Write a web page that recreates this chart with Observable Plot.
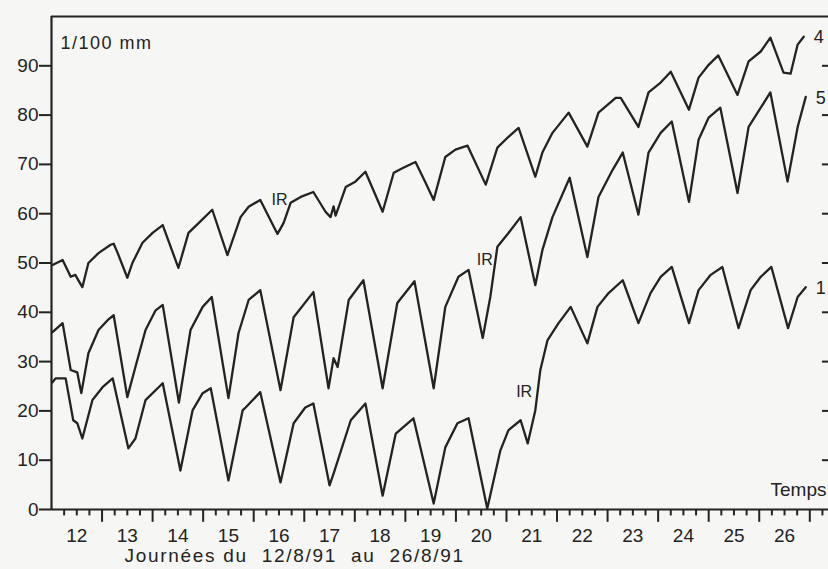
<!DOCTYPE html>
<html><head><meta charset="utf-8">
<script src="https://cdn.jsdelivr.net/npm/d3@7"></script>
<script src="https://cdn.jsdelivr.net/npm/@observablehq/plot@0.6"></script>
<style>
html,body{margin:0;padding:0;background:#f6f6f4;}
</style></head><body><div id="chart"></div>
<script>
// ---- texts ----
const unitLabel = "1/100 mm";
const xTitle = "Journées du\u00A0\u00A012/8/91\u00A0\u00A0au\u00A0\u00A026/8/91";
const timeLabel = "Temps";
const irText = "IR";
// ---- ticks ----
const dayLabels = [12,13,14,15,16,17,18,19,20,21,22,23,24,25,26];
const dayBounds = [13,14,15,16,17,18,19,20,21,22,23,24,25,26,27];
const yTicks = [0,10,20,30,40,50,60,70,80,90];
const rightTicks = [10,20,30,40,50,60,70,80,90];
const seriesNames = ["4","5","1"];
// ---- series 4 (top) : time in days, value in 1/100 mm ----
const s4T = [12.02,12.22,12.38,12.47,12.61,12.73,12.93,13.17,13.23,13.31,13.50,13.60,13.80,14.00,14.20,14.51,14.71,14.91,15.18,15.48,15.74,15.90,16.13,16.47,16.59,16.73,16.93,17.18,17.42,17.52,17.58,17.62,17.82,18.01,18.21,18.55,18.77,18.96,19.20,19.40,19.56,19.79,19.99,20.23,20.59,20.82,21.04,21.24,21.57,21.71,21.91,22.23,22.60,22.82,23.16,23.26,23.61,23.81,24.05,24.25,24.61,24.80,25.00,25.19,25.57,25.79,26.03,26.22,26.48,26.62,26.76,26.88];
const s4V = [49.6,50.6,47.2,47.6,45.1,50.0,52.0,53.7,53.9,52.0,47.0,50.0,54.1,56.1,57.7,49.0,56.1,58.1,60.8,51.6,59.3,61.4,62.8,55.9,58.1,62.2,63.4,64.4,60.4,59.3,61.5,59.6,65.4,66.5,68.5,60.4,68.3,69.3,70.5,66.3,62.8,71.5,73.0,73.8,65.9,73.4,75.6,77.4,67.5,72.4,76.4,80.5,73.6,80.5,83.5,83.5,77.6,84.6,86.6,88.8,81.1,87.6,90.2,92.1,84.1,90.9,92.9,95.7,88.6,88.4,94.3,95.9];
// ---- series 5 (middle) ----
const s5T = [12.02,12.22,12.38,12.51,12.59,12.73,12.93,13.11,13.23,13.50,13.66,13.86,14.06,14.20,14.52,14.75,14.99,15.17,15.50,15.70,15.90,16.13,16.53,16.79,17.18,17.48,17.58,17.66,17.88,18.17,18.55,18.84,19.18,19.56,19.79,20.05,20.25,20.53,20.68,20.82,21.04,21.28,21.57,21.71,21.91,22.25,22.60,22.82,23.10,23.30,23.61,23.81,24.05,24.27,24.61,24.80,25.00,25.23,25.57,25.79,26.03,26.22,26.56,26.76,26.92];
const s5V = [36.0,37.8,28.3,27.8,23.6,31.7,36.4,38.4,39.4,22.8,28.9,36.4,40.4,41.5,21.7,36.4,41.1,43.1,22.6,35.8,42.5,44.5,24.2,39.0,44.1,24.6,30.7,28.9,42.5,46.5,24.6,41.9,46.3,24.6,41.1,47.2,48.6,34.8,43.1,53.3,56.1,59.3,45.5,52.6,59.3,67.3,51.2,63.4,68.9,72.4,59.8,72.4,76.4,78.7,62.4,75.0,79.5,81.5,64.2,77.6,81.5,84.6,66.5,77.6,83.7];
// ---- series 1 (bottom) ----
const s1T = [12.02,12.08,12.28,12.43,12.51,12.61,12.81,13.01,13.21,13.52,13.66,13.86,14.20,14.55,14.79,14.99,15.15,15.50,15.78,15.84,16.13,16.53,16.79,17.02,17.18,17.50,17.58,17.92,18.21,18.55,18.81,19.16,19.56,19.79,20.03,20.25,20.62,20.88,21.04,21.28,21.42,21.57,21.67,21.81,22.03,22.27,22.60,22.80,23.02,23.30,23.61,23.85,24.05,24.27,24.61,24.80,25.04,25.27,25.59,25.83,26.03,26.24,26.57,26.76,26.92];
const s1V = [25.8,26.6,26.6,18.1,17.5,14.4,22.2,24.8,26.6,12.4,14.4,22.2,25.6,7.9,20.1,23.6,24.6,5.9,20.1,20.7,23.8,5.5,17.5,20.7,21.5,4.9,7.3,18.1,21.5,2.8,15.4,18.5,1.2,12.6,17.5,18.5,0.2,12.0,16.1,18.1,13.4,20.1,28.3,34.3,37.8,41.1,33.7,41.1,43.9,46.5,37.8,43.9,47.2,49.2,37.8,44.5,47.6,49.2,36.8,44.5,47.2,49.2,36.8,43.1,45.1];
// ---- IR annotations ----
const irT = [16.51, 20.57, 21.35];
const irV = [62.8, 50.7, 23.8];

const seriesT = [s4T, s5T, s1T];
const seriesV = [s4V, s5V, s1V];
const rows = [];
seriesNames.forEach((name, i) => {
  seriesT[i].forEach((t, j) => rows.push({s: name, t, v: seriesV[i][j]}));
});
const ends = seriesNames.map((name, i) => ({s: name, t: seriesT[i][seriesT[i].length - 1], v: seriesV[i][seriesV[i].length - 1]}));
const irRows = irT.map((t, i) => ({t, v: irV[i]}));

const xDomain = [12, 27.37];
const quarterTicks = [];
dayLabels.forEach(d => { quarterTicks.push(d + 0.25, d + 0.5, d + 0.75); });
quarterTicks.push(27.25);
const labelPos = dayLabels.map(d => d + 0.5);

const ink = "#232323";
const font = "'Liberation Sans', Arial, Helvetica, sans-serif";

const chart = Plot.plot({
  width: 828, height: 569,
  marginLeft: 51, marginRight: 0, marginTop: 16, marginBottom: 60,
  style: {background: "transparent", fontFamily: font},
  x: {domain: xDomain, label: null},
  y: {domain: [0, 100], label: null},
  marks: [
    Plot.ruleX(dayBounds, {y1: 0, y2: -2.6, stroke: ink, strokeWidth: 2}),
    Plot.ruleX(quarterTicks, {y1: 0, y2: -1.3, stroke: ink, strokeWidth: 2}),
    Plot.ruleY([0], {stroke: ink, strokeWidth: 2.2}),
    Plot.ruleY([100], {stroke: ink, strokeWidth: 2.2}),
    Plot.ruleX([xDomain[0]], {y1: 0, y2: 100, stroke: ink, strokeWidth: 2.2}),
    Plot.axisY(yTicks, {anchor: "left", tickSize: 12, tickPadding: 1, strokeWidth: 2, fontSize: 19, label: null, stroke: ink, fill: ink}),
    Plot.ruleY(rightTicks, {x1: xDomain[1] - 0.12, x2: xDomain[1], stroke: ink, strokeWidth: 2}),
    Plot.axisX(labelPos, {anchor: "bottom", tickSize: 0, tickPadding: 19, fontSize: 19, tickFormat: d => String(Math.floor(d)), label: null, fill: ink}),
    Plot.line(rows, {x: "t", y: "v", z: "s", stroke: ink, strokeWidth: 2.3, curve: "linear", strokeLinejoin: "round"}),
    Plot.text(ends, {x: "t", y: "v", text: "s", dx: 10, dy: 1, textAnchor: "start", fontSize: 18, fill: ink}),
    Plot.text(irRows, {x: "t", y: "v", text: () => irText, fontSize: 16, fill: ink}),
    Plot.text([unitLabel], {frameAnchor: "top-left", dx: 9, dy: 20, textAnchor: "start", fontSize: 18, fill: ink}),
    Plot.text([timeLabel], {frameAnchor: "bottom-right", dx: -2, dy: -14, textAnchor: "end", fontSize: 19, fill: ink}),
    Plot.text([xTitle], {frameAnchor: "bottom-left", dx: 73, dy: 52, textAnchor: "start", fontSize: 19, fill: ink})
  ]
});
d3.select(chart).selectAll("text")
  .filter(function() { return this.textContent === xTitle; })
  .attr("letter-spacing", 1.7);
d3.select(chart).selectAll("text")
  .filter(function() { return this.textContent === unitLabel; })
  .attr("letter-spacing", 1.5);
document.getElementById("chart").appendChild(chart);
</script>
</body></html>
